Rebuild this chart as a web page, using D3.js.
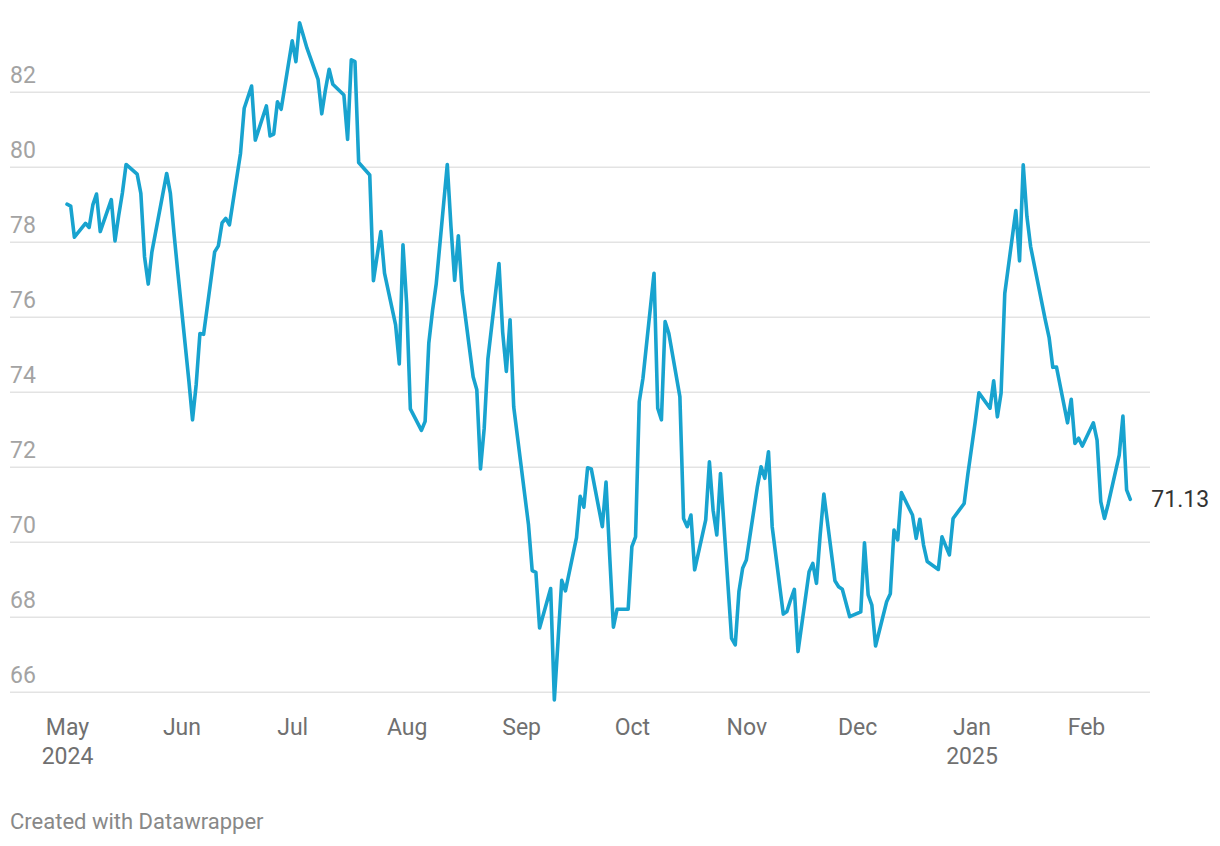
<!DOCTYPE html>
<html>
<head>
<meta charset="utf-8">
<script src="https://cdn.jsdelivr.net/npm/d3@7"></script>
<style>
  html, body { margin: 0; padding: 0; background: #fff; }
  svg { display: block; font-family: Roboto, "Noto Sans", sans-serif; }
</style>
</head>
<body>
<svg id="chart" width="1220" height="846"></svg>
<script>
// ---- data ----
const dates = [
  "2024-05-01","2024-05-02","2024-05-03","2024-05-06","2024-05-07","2024-05-08","2024-05-09","2024-05-10",
  "2024-05-13","2024-05-14","2024-05-15","2024-05-16","2024-05-17","2024-05-20","2024-05-21","2024-05-22",
  "2024-05-23","2024-05-24","2024-05-28","2024-05-29","2024-05-30","2024-05-31","2024-06-03","2024-06-04",
  "2024-06-05","2024-06-06","2024-06-07","2024-06-10","2024-06-11","2024-06-12","2024-06-13","2024-06-14",
  "2024-06-17","2024-06-18","2024-06-20","2024-06-21","2024-06-24","2024-06-25","2024-06-26","2024-06-27",
  "2024-06-28","2024-07-01","2024-07-02","2024-07-03","2024-07-05","2024-07-08","2024-07-09","2024-07-10",
  "2024-07-11","2024-07-12","2024-07-15","2024-07-16","2024-07-17","2024-07-18","2024-07-19","2024-07-22",
  "2024-07-23","2024-07-24","2024-07-25","2024-07-26","2024-07-29","2024-07-30","2024-07-31","2024-08-01",
  "2024-08-02","2024-08-05","2024-08-06","2024-08-07","2024-08-08","2024-08-09","2024-08-12","2024-08-13",
  "2024-08-14","2024-08-15","2024-08-16","2024-08-19","2024-08-20","2024-08-21","2024-08-22","2024-08-23",
  "2024-08-26","2024-08-27","2024-08-28","2024-08-29","2024-08-30","2024-09-03","2024-09-04","2024-09-05",
  "2024-09-06","2024-09-09","2024-09-10","2024-09-11","2024-09-12","2024-09-13","2024-09-16","2024-09-17",
  "2024-09-18","2024-09-19","2024-09-20","2024-09-23","2024-09-24","2024-09-25","2024-09-26","2024-09-27",
  "2024-09-30","2024-10-01","2024-10-02","2024-10-03","2024-10-04","2024-10-07","2024-10-08","2024-10-09",
  "2024-10-10","2024-10-11","2024-10-14","2024-10-15","2024-10-16","2024-10-17","2024-10-18","2024-10-21",
  "2024-10-22","2024-10-23","2024-10-24","2024-10-25","2024-10-28","2024-10-29","2024-10-30","2024-10-31",
  "2024-11-01","2024-11-04","2024-11-05","2024-11-06","2024-11-07","2024-11-08","2024-11-11","2024-11-12",
  "2024-11-13","2024-11-14","2024-11-15","2024-11-18","2024-11-19","2024-11-20","2024-11-21","2024-11-22",
  "2024-11-25","2024-11-26","2024-11-27","2024-11-29","2024-12-02","2024-12-03","2024-12-04","2024-12-05",
  "2024-12-06","2024-12-09","2024-12-10","2024-12-11","2024-12-12","2024-12-13","2024-12-16","2024-12-17",
  "2024-12-18","2024-12-19","2024-12-20","2024-12-23","2024-12-24","2024-12-26","2024-12-27","2024-12-30",
  "2024-12-31","2025-01-02","2025-01-03","2025-01-06","2025-01-07","2025-01-08","2025-01-09","2025-01-10",
  "2025-01-13","2025-01-14","2025-01-15","2025-01-16","2025-01-17","2025-01-21","2025-01-22","2025-01-23",
  "2025-01-24","2025-01-27","2025-01-28","2025-01-29","2025-01-30","2025-01-31","2025-02-03","2025-02-04",
  "2025-02-05","2025-02-06","2025-02-07","2025-02-10","2025-02-11","2025-02-12","2025-02-13"
];
const values = [
  79.00,78.95,78.12,78.49,78.38,78.98,79.27,78.27,
  79.12,78.02,78.70,79.30,80.06,79.80,79.29,77.60,
  76.87,77.73,79.82,79.29,78.20,77.20,74.30,73.25,
  74.20,75.55,75.53,77.73,77.89,78.50,78.62,78.45,
  80.36,81.56,82.15,80.71,81.62,80.82,80.87,81.73,
  81.53,83.36,82.80,83.84,83.16,82.33,81.41,82.05,
  82.60,82.20,81.91,80.73,82.85,82.80,80.11,79.78,
  76.96,77.62,78.27,77.16,75.78,74.74,77.92,76.35,
  73.54,72.97,73.21,75.30,76.16,76.87,80.06,78.40,
  76.97,78.16,76.69,74.40,74.05,71.94,73.02,74.87,
  77.42,75.59,74.54,75.92,73.59,70.45,69.23,69.18,
  67.70,68.75,65.78,67.35,68.97,68.69,70.11,71.21,
  70.92,71.97,71.94,70.40,71.59,69.60,67.72,68.20,
  68.20,69.87,70.13,73.73,74.36,77.16,73.56,73.25,
  75.87,75.56,73.87,70.62,70.40,70.71,69.25,70.58,
  72.13,70.84,70.18,71.82,67.42,67.25,68.67,69.29,
  69.51,71.47,72.00,71.69,72.40,70.40,68.07,68.14,
  68.45,68.73,67.07,69.20,69.42,68.89,70.18,71.27,
  68.96,68.80,68.73,68.00,68.13,69.97,68.58,68.31,
  67.22,68.40,68.61,70.31,70.05,71.31,70.71,70.09,
  70.60,69.91,69.47,69.26,70.13,69.65,70.62,71.02,
  71.80,73.20,73.97,73.56,74.29,73.33,73.96,76.62,
  78.83,77.49,80.05,78.67,77.87,75.90,75.45,74.65,
  74.66,73.17,73.80,72.62,72.76,72.55,73.17,72.71,
  71.07,70.62,71.00,72.31,73.35,71.38,71.13
];
const yTicks = [66, 68, 70, 72, 74, 76, 78, 80, 82];
const xTickDates = ["2024-05-01","2024-06-01","2024-07-01","2024-08-01","2024-09-01","2024-10-01",
                    "2024-11-01","2024-12-01","2025-01-01","2025-02-01"];
const xTickMonths = ["May","Jun","Jul","Aug","Sep","Oct","Nov","Dec","Jan","Feb"];
const xTickYears  = ["2024","","","","","","","","2025",""];
const endLabel = "71.13";
const footer = "Created with Datawrapper";

// ---- drawing ----
const parse = d3.utcParse("%Y-%m-%d");
const data = dates.map((d, i) => ({ date: parse(d), value: values[i] }));

const svg = d3.select("#chart");
const x = d3.scaleUtc()
  .domain([parse(dates[0]), parse(dates[dates.length - 1])])
  .range([67, 1130.3]);
const y = d3.scaleLinear().domain([66, 82]).range([691.7, 91.7]);

const gridLeft = 10, gridRight = 1150;

// Y axis / gridlines
const yAxis = d3.axisLeft(y)
  .tickValues(yTicks)
  .tickSize(gridRight - gridLeft)
  .tickFormat(d3.format("d"));
const gy = svg.append("g")
  .attr("transform", `translate(${gridRight},0)`)
  .call(yAxis);
gy.select(".domain").remove();
gy.selectAll(".tick line").attr("stroke", "#e3e3e3").attr("stroke-width", 1.6);
gy.selectAll(".tick text")
  .attr("x", -(gridRight - gridLeft))
  .attr("dy", null)
  .attr("y", -9.5)
  .attr("text-anchor", "start")
  .attr("fill", "#a3a3a3")
  .style("font-size", "23px")
  .style("font-family", "Roboto, sans-serif");

// X axis
const xAxis = d3.axisBottom(x)
  .tickValues(xTickDates.map(parse))
  .tickSize(0)
  .tickFormat((d, i) => xTickMonths[i]);
const gx = svg.append("g")
  .attr("transform", "translate(0,691.7)")
  .call(xAxis);
gx.select(".domain").remove();
gx.selectAll(".tick text")
  .attr("y", 43)
  .attr("dy", null)
  .attr("fill", "#707070")
  .style("font-size", "23px")
  .style("font-family", "Roboto, sans-serif")
  .each(function (d, i) {
    if (xTickYears[i]) {
      d3.select(this).append("tspan")
        .attr("x", 0).attr("dy", 29.5)
        .text(xTickYears[i]);
    }
  });

// Line
const line = d3.line()
  .x(d => x(d.date))
  .y(d => y(d.value));
svg.append("path")
  .datum(data)
  .attr("d", line)
  .attr("fill", "none")
  .attr("stroke", "#18a3cf")
  .attr("stroke-width", 3.6)
  .attr("stroke-linejoin", "round")
  .attr("stroke-linecap", "round");

// End label
const last = data[data.length - 1];
svg.append("text")
  .attr("x", x(last.date) + 21)
  .attr("y", y(last.value) + 8)
  .attr("fill", "#333")
  .style("font-size", "23px")
  .text(endLabel);

// Footer
svg.append("text")
  .attr("x", 10)
  .attr("y", 829)
  .attr("fill", "#888")
  .style("font-size", "22px")
  .text(footer);
</script>
</body>
</html>
